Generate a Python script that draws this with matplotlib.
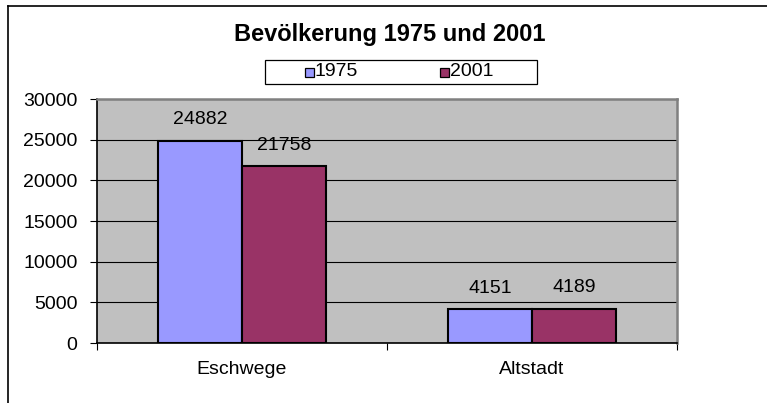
import matplotlib
matplotlib.use('Agg')
import matplotlib.pyplot as plt
from matplotlib.patches import Rectangle
from matplotlib.lines import Line2D

# Daten
orte = ['Eschwege', 'Altstadt']
jahre = ['1975', '2001']
werte_1975 = [24882, 4151]
werte_2001 = [21758, 4189]
farben = ['#9999FF', '#993366']
y_ticks = [0, 5000, 10000, 15000, 20000, 25000, 30000]

plt.rcParams['font.family'] = ['Liberation Sans', 'DejaVu Sans']
FS = 14

W, H = 767, 403
fig = plt.figure(figsize=(W / 100, H / 100), dpi=100)
ax = fig.add_axes([97 / W, 1 - 343 / H, 580 / W, 244 / H])
ax.set_facecolor('#C0C0C0')

breite = 0.289
x = list(range(len(orte)))
serien = [werte_1975, werte_2001]
for k, (werte, farbe) in enumerate(zip(serien, farben)):
    pos = [i - breite + k * breite for i in x]
    bars = ax.bar(pos, werte, width=breite, align='edge', color=farbe,
                  edgecolor='black', linewidth=1.5, zorder=3)
    for b, v in zip(bars, werte):
        ax.annotate(str(v), (b.get_x() + b.get_width() / 2, v),
                    xytext=(0, 9), textcoords='offset points',
                    ha='center', va='bottom', fontsize=FS)

ax.set_xlim(-0.5, len(orte) - 0.5)
ax.set_ylim(0, 30000)
ax.set_yticks(y_ticks)
ax.set_yticklabels([str(t) for t in y_ticks], fontsize=FS)
ax.yaxis.grid(True, color='black', linewidth=0.8, zorder=1)
ax.set_axisbelow(True)

ax.set_xticks(x)
ax.set_xticklabels(orte, fontsize=FS)
ax.set_xticks([i - 0.5 for i in range(len(orte) + 1)], minor=True)
ax.tick_params(axis='x', which='major', length=0, pad=13)
ax.tick_params(axis='x', which='minor', length=5, width=0.8, direction='out')
ax.tick_params(axis='y', length=5, width=0.8, direction='out', pad=9)

for s in ['left', 'bottom']:
    ax.spines[s].set_color('black')
    ax.spines[s].set_linewidth(1.2)
for s in ['top', 'right']:
    ax.spines[s].set_color('#808080')
    ax.spines[s].set_linewidth(1.8)

# Titel
fig.text(390 / W, 1 - 35 / H, 'Bevölkerung 1975 und 2001', ha='center',
         va='center', fontsize=17, fontweight='bold')

# Legende
fig.patches.append(Rectangle((265 / W, 1 - 84 / H), 272 / W, 24 / H,
                             transform=fig.transFigure, facecolor='white',
                             edgecolor='black', linewidth=0.9))
leg_x = [305, 440]
for lx, jahr, farbe in zip(leg_x, jahre, farben):
    fig.patches.append(Rectangle((lx / W, 1 - 77 / H), 9 / W, 9 / H,
                                 transform=fig.transFigure, facecolor=farbe,
                                 edgecolor='black', linewidth=0.9))
    fig.text((lx + 10) / W, 1 - 72 / H, jahr, ha='left', va='center',
             fontsize=FS)

# Rahmen (nur links und oben sichtbar)
fig.add_artist(Line2D([7.5 / W, 7.5 / W], [0, 1 - 5.5 / H],
                      transform=fig.transFigure, color='black', linewidth=1.2))
fig.add_artist(Line2D([7.5 / W, 1], [1 - 5.5 / H, 1 - 5.5 / H],
                      transform=fig.transFigure, color='black', linewidth=1.2))

fig.savefig('out.png', dpi=100)
